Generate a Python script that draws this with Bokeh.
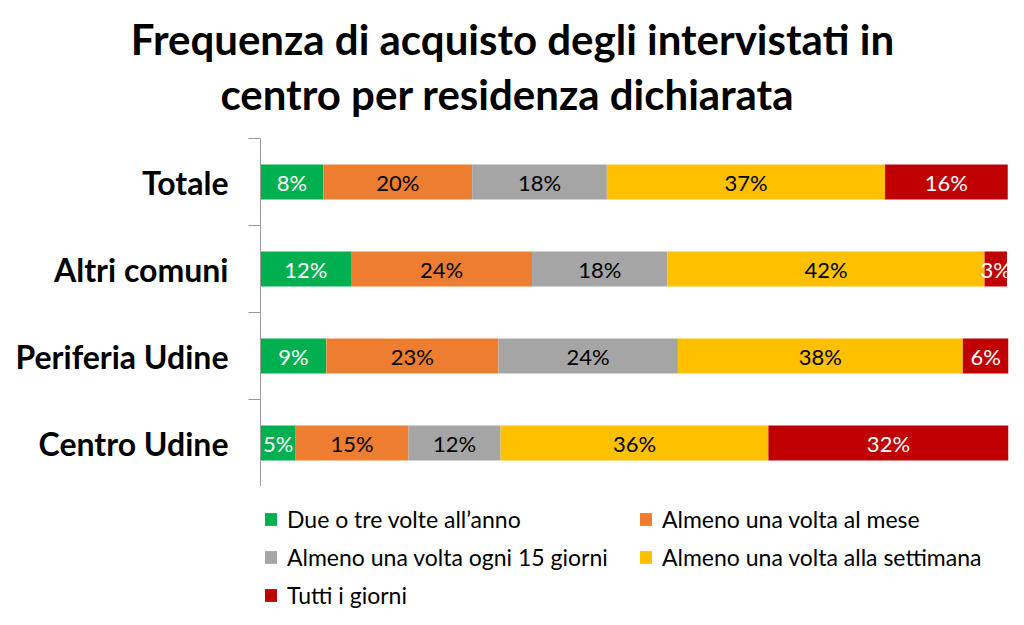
import numpy as np
from bokeh.plotting import figure
from bokeh.layouts import column
from bokeh.models import Range1d, FixedTicker, Legend, LegendItem, Label, ColumnDataSource
from bokeh.core.properties import value
from bokeh.embed import file_html
from bokeh.resources import INLINE

title_lines = ["Frequenza di acquisto degli intervistati in", "centro  per residenza dichiarata"]
categories = ["Totale", "Altri comuni", "Periferia Udine", "Centro Udine"]
series_names = [
    "Due o tre volte all\u2019anno",
    "Almeno una volta al mese",
    "Almeno una volta ogni 15 giorni",
    "Almeno una volta alla settimana",
    "Tutti i giorni",
]
colors = ["#00B050", "#ED7D31", "#A5A5A5", "#FFC000", "#C00000"]
label_colors = ["white", "black", "black", "black", "white"]

# percentages per category (Totale, Altri comuni, Periferia Udine, Centro Udine)
due_tre_anno = [8.4, 12.1, 8.8, 4.7]
una_mese = [19.9, 24.2, 23.0, 15.1]
ogni_15 = [18.0, 18.1, 24.0, 12.3]
settimana = [37.2, 42.4, 38.1, 35.8]
tutti_giorni = [16.4, 3.0, 6.1, 32.1]

values = np.array([due_tre_anno, una_mese, ogni_15, settimana, tutti_giorni])
n_cat = len(categories)
ypos = np.array([n_cat - 1 - i + 0.5 for i in range(n_cat)])

FONT = "Lato"
W = 1016
BL, BR = 260, 8


def blank(height, left=0, right=0, top=0):
    f = figure(width=W, height=height, output_backend="svg", toolbar_location=None,
               x_axis_location=None, y_axis_location=None,
               x_range=Range1d(1000, 1001), y_range=Range1d(1000, 1001),
               min_border_left=left, min_border_right=right, min_border_top=top,
               min_border_bottom=0, frame_align=False)
    f.outline_line_color = None
    f.xgrid.visible = False
    f.ygrid.visible = False
    return f


# ---- title ----
tf = blank(138)
for line, yy in zip(title_lines, [100, 45]):
    tf.add_layout(Label(x=512, y=yy, x_units="screen", y_units="screen", text=line,
                        text_align="center", text_baseline="alphabetic",
                        text_font=FONT, text_font_style="bold", text_font_size="42px",
                        text_color="black"))

# ---- bars ----
p = figure(width=W, height=348, output_backend="svg", toolbar_location=None,
           x_range=Range1d(0, 100), y_range=Range1d(0, n_cat),
           x_axis_location=None, frame_align=False,
           min_border_left=BL, min_border_right=BR, min_border_top=0, min_border_bottom=0)
p.outline_line_color = None
p.xgrid.visible = False
p.ygrid.visible = False

yaxis = p.yaxis[0]
yaxis.ticker = FixedTicker(ticks=list(ypos), minor_ticks=list(range(n_cat + 1)))
yaxis.major_label_overrides = {float(y): c for y, c in zip(ypos, categories)}
yaxis.major_tick_out = 0
yaxis.major_tick_in = 0
yaxis.minor_tick_out = 12
yaxis.minor_tick_in = 0
yaxis.major_label_standoff = 20
yaxis.axis_line_color = "#9a9a9a"
yaxis.minor_tick_line_color = "#9a9a9a"
yaxis.major_label_text_font = FONT
yaxis.major_label_text_font_style = "bold"
yaxis.major_label_text_font_size = "32px"
yaxis.major_label_text_color = "black"

# ---- legend figure (its bars, from the same sources, fall outside its ranges) ----
lf = blank(139, left=263, right=0, top=19)

left = np.zeros(n_cat)
items = []
for k, name in enumerate(series_names):
    vals = values[k]
    right = left + vals
    src = ColumnDataSource(dict(y=ypos, left=left.copy(), right=right,
                                mid=(left + right) / 2,
                                lab=[f"{round(v)}%" for v in vals]))
    p.hbar(y="y", left="left", right="right", height=0.4, source=src,
           fill_color=colors[k], line_color=None)
    p.text(x="mid", y="y", text="lab", source=src, text_align="center", text_baseline="middle",
           text_font=value(FONT), text_font_size="22px", text_color=label_colors[k])
    r = lf.hbar(y="y", left="left", right="right", height=0.4, source=src,
                fill_color=colors[k], line_color=None)
    items.append(LegendItem(label=name, renderers=[r]))
    left = right

legend = Legend(items=items, location="top_left", orientation="horizontal", ncols=2,
                label_text_font=FONT, label_text_font_size="23px", label_text_color="black",
                glyph_width=15, glyph_height=16, label_standoff=9, label_height=24,
                label_width=341, spacing=10, padding=4, margin=0,
                border_line_color=None, background_fill_alpha=0)
lf.add_layout(legend)

open("out.html", "w").write(file_html(column(tf, p, lf), INLINE))
